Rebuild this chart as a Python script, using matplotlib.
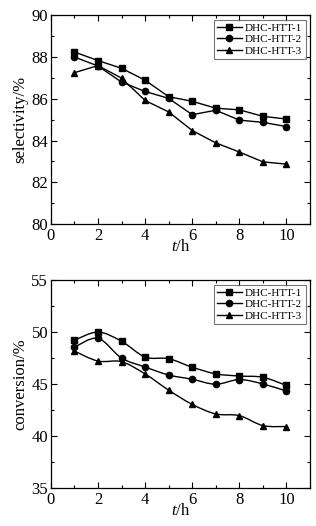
import matplotlib
matplotlib.use('Agg')
import matplotlib.pyplot as plt
import numpy as np
from matplotlib.path import Path
from matplotlib.patches import PathPatch
from matplotlib.ticker import MultipleLocator

plt.rcParams['font.family'] = ['Liberation Serif', 'DejaVu Serif']
plt.rcParams['mathtext.fontset'] = 'custom'
plt.rcParams['mathtext.it'] = 'Liberation Serif:italic'
plt.rcParams['mathtext.rm'] = 'Liberation Serif'

hours = [1, 2, 3, 4, 5, 6, 7, 8, 9, 10]
labels = ['DHC-HTT-1', 'DHC-HTT-2', 'DHC-HTT-3']
markers = ['s', 'o', '^']

selectivity_1 = [88.24, 87.83, 87.46, 86.89, 86.10, 85.88, 85.55, 85.47, 85.16, 85.03]
selectivity_2 = [88.00, 87.57, 86.80, 86.35, 86.02, 85.24, 85.45, 84.98, 84.87, 84.67]
selectivity_3 = [87.25, 87.59, 86.99, 85.92, 85.37, 84.48, 83.89, 83.45, 82.98, 82.87]

conversion_1 = [49.24, 50.02, 49.14, 47.62, 47.46, 46.64, 46.00, 45.79, 45.67, 44.88]
conversion_2 = [48.57, 49.42, 47.52, 46.66, 45.89, 45.48, 45.00, 45.45, 45.03, 44.34]
conversion_3 = [48.19, 47.23, 47.17, 45.99, 44.43, 43.06, 42.14, 41.98, 41.02, 40.93]


def smooth_path(x, y):
    # Catmull-Rom style bezier through the data points
    x = np.asarray(x, float)
    y = np.asarray(y, float)
    verts = [(x[0], y[0])]
    codes = [Path.MOVETO]
    n = len(x)
    for i in range(n - 1):
        i0 = max(i - 1, 0)
        i3 = min(i + 2, n - 1)
        c1 = (x[i] + (x[i + 1] - x[i0]) / 6, y[i] + (y[i + 1] - y[i0]) / 6)
        c2 = (x[i + 1] - (x[i3] - x[i]) / 6, y[i + 1] - (y[i3] - y[i]) / 6)
        verts += [c1, c2, (x[i + 1], y[i + 1])]
        codes += [Path.CURVE4] * 3
    return Path(verts, codes)


def style_axes(ax, ylabel):
    ax.set_xlim(0, 11)
    ax.xaxis.set_major_locator(MultipleLocator(2))
    ax.xaxis.set_minor_locator(MultipleLocator(1))
    ax.tick_params(which='both', direction='in', top=True, right=True,
                   labelsize=12, width=0.8)
    ax.tick_params(which='major', length=4)
    ax.tick_params(axis='x', which='major', pad=3)
    ax.tick_params(axis='y', which='major', pad=2)
    ax.tick_params(which='minor', length=2)
    for s in ax.spines.values():
        s.set_linewidth(0.9)
    ax.set_xlabel('$t$/h', fontsize=12, labelpad=-4)
    ax.set_ylabel(ylabel, fontsize=12, labelpad=2)
    leg = ax.legend(loc='upper right', fontsize=8, frameon=True, fancybox=False,
                    edgecolor='#555555', handlelength=2.2, handletextpad=0.3,
                    borderpad=0.3, labelspacing=0.15, borderaxespad=0.4)
    leg.get_frame().set_linewidth(0.8)


fig = plt.figure(figsize=(3.16, 5.26), dpi=100)
ax1 = fig.add_axes([0.161, 0.574, 0.820, 0.397])
ax2 = fig.add_axes([0.161, 0.072, 0.820, 0.395])

for ys, lab, m in zip([selectivity_1, selectivity_2, selectivity_3], labels, markers):
    ax1.plot(hours, ys, color='black', marker=m, markersize=4.5, linewidth=1, label=lab)
ax1.set_ylim(80, 90)
ax1.yaxis.set_major_locator(MultipleLocator(2))
ax1.yaxis.set_minor_locator(MultipleLocator(1))
style_axes(ax1, 'selectivity/%')

for ys, lab, m in zip([conversion_1, conversion_2, conversion_3], labels, markers):
    ax2.add_patch(PathPatch(smooth_path(hours, ys), facecolor='none',
                            edgecolor='black', linewidth=1))
    ax2.plot(hours, ys, color='black', marker=m, markersize=4.5, linestyle='none')
    ax2.plot([], [], color='black', marker=m, markersize=4.5, linewidth=1, label=lab)
ax2.set_ylim(35, 55)
ax2.yaxis.set_major_locator(MultipleLocator(5))
ax2.yaxis.set_minor_locator(MultipleLocator(2.5))
style_axes(ax2, 'conversion/%')

fig.savefig('out.png', dpi=100)
